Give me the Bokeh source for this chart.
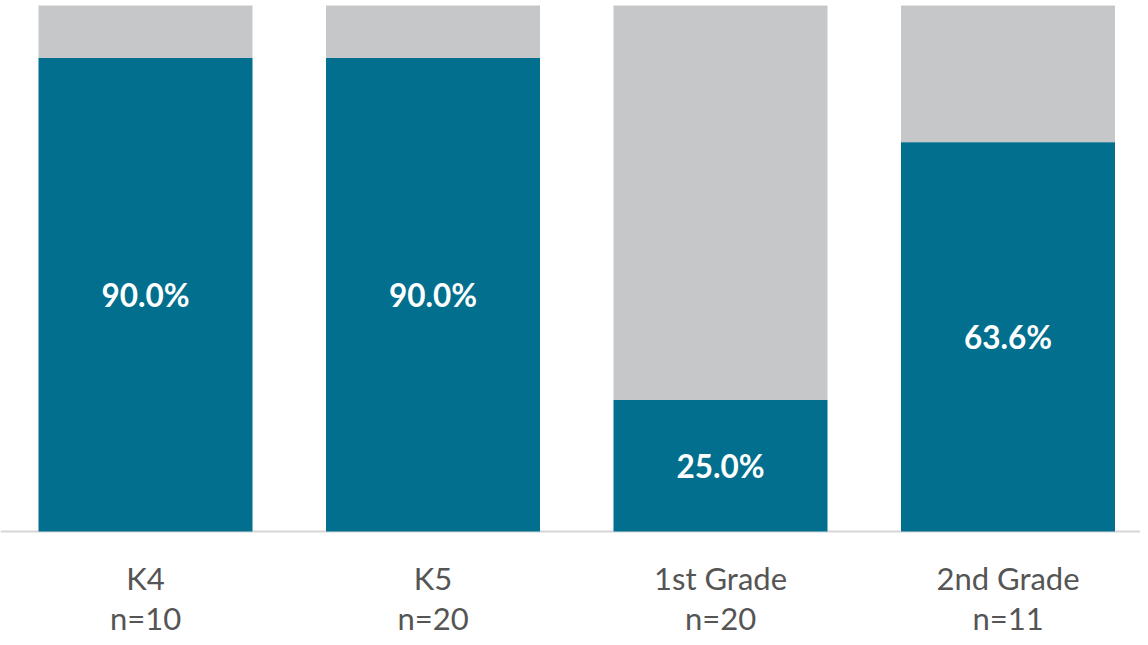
from bokeh.plotting import figure
from bokeh.models import ColumnDataSource, Span, Range1d
from bokeh.core.properties import value
from bokeh.embed import file_html
from bokeh.resources import INLINE

# ---- data ----
categories = ["K4", "K5", "1st Grade", "2nd Grade"]
sample_sizes = ["n=10", "n=20", "n=20", "n=11"]
yes_values = [90, 90, 25, 74]          # teal segment heights
total_values = [100, 100, 100, 100]
pct_labels = ["90.0%", "90.0%", "25.0%", "63.6%"]

TEAL = "#016F8D"
GRAY = "#C6C7C9"
TEXT = "#555555"

W, H = 1140, 637
PX_X = 287.5      # pixels per category
PX_Y = 5.26       # pixels per percentage point
ZERO_Y = 531      # pixel row of the baseline

xs = list(range(len(categories)))
src = ColumnDataSource(dict(
    x=xs,
    yes=yes_values,
    total=total_values,
    mid=[v / 2 for v in yes_values],
    pct=pct_labels,
    cat=categories,
    n=sample_sizes,
    cat_y=[-(577 - ZERO_Y) / PX_Y] * len(categories),
    n_y=[-(617 - ZERO_Y) / PX_Y] * len(categories),
))

x0 = -145 / PX_X
p = figure(width=W, height=H, output_backend="svg", toolbar_location=None,
           x_range=Range1d(x0, x0 + W / PX_X),
           y_range=Range1d(-(H - ZERO_Y) / PX_Y, ZERO_Y / PX_Y),
           min_border=0)
p.axis.visible = False
p.grid.visible = False
p.outline_line_color = None
p.background_fill_color = "white"
p.border_fill_color = "white"

bw = 214 / PX_X
base = Span(location=0, dimension="width", line_color="#D6D6D6", line_width=2, level="underlay")
p.add_layout(base)

p.vbar(x="x", top="total", bottom="yes", width=bw, source=src, fill_color=GRAY, line_color=None)
p.vbar(x="x", top="yes", bottom=0, width=bw, source=src, fill_color=TEAL, line_color=None)

p.text(x="x", y="mid", text="pct", source=src, text_color="white",
       text_font=value("Lato"), text_font_style="bold", text_font_size="31.5px",
       text_align="center", text_baseline="middle")

p.text(x="x", y="cat_y", text="cat", source=src, text_color=TEXT,
       text_font=value("Lato"), text_font_size="31px",
       text_align="center", text_baseline="middle")
p.text(x="x", y="n_y", text="n", source=src, text_color=TEXT,
       text_font=value("Lato"), text_font_size="31px",
       text_align="center", text_baseline="middle")

open("out.html", "w").write(file_html(p, INLINE))
